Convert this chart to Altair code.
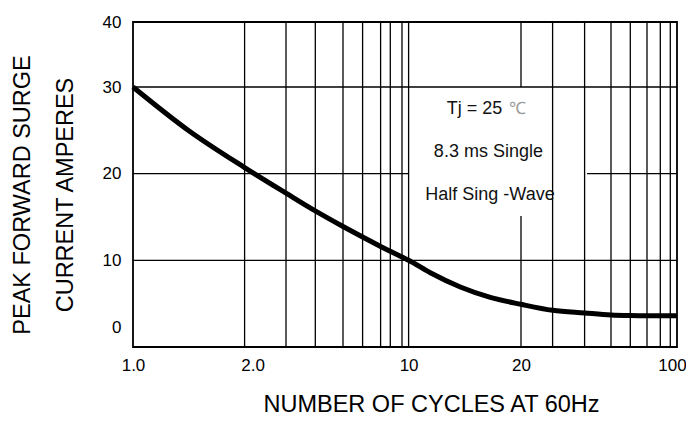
import altair as alt
import pandas as pd

# ---- data ----
cycles = [1, 1.5, 2, 3, 4, 5, 6, 7, 8, 9, 10, 11.93, 14.6, 17.27, 20, 30, 40, 50, 60, 70, 80, 90, 100]
amps = [30, 24.95, 20.7, 17.75, 15.7, 13.9, 12.68, 11.6, 11.04, 10.37, 10, 8.13, 6.0, 4.44, 3.4, 2.5, 2.1, 1.8, 1.71, 1.68, 1.68, 1.68, 1.68]

x_grid_front = [2, 3, 4, 5, 6, 7, 8, 9, 10, 30, 40, 50, 60, 70, 80, 90]
x_grid_back = [20]
y_grid_front = [10, 30]
y_grid_back = [20]

x_tick_values = [1, 2, 10, 20, 100]
y_tick_values = [0, 10, 20, 30, 40]

note_text = ["8.3 ms  Single", "Half Sing -Wave"]
note_x = [17.1, 17.24]
note_y = [22.5, 17.5]
tj_text = ["Tj = 25"]
tj_x = [15.86]
tj_unit = ["℃"]
tj_unit_x = [19.67]
tj_y = [27.5]

box_x = [10]
box_x2 = [40.9]
box_y = [15.1]
box_y2 = [30]

# ---- the printed grid is hand-drawn: piecewise scales following it ----
x_domain = [1, 2, 3, 4, 5, 6, 7, 8, 9, 10, 20, 30, 40, 50, 60, 70, 80, 90, 100]
x_range = [0, 111.6, 153, 182.3, 210, 229.6, 247.6, 257.3, 269, 275.6,
           388, 419.6, 451.6, 478, 497.3, 514, 527.3, 537.3, 544]
y_domain = [-3, 0, 10, 20, 30, 40]
y_range = [325, 305, 238.3, 151.6, 65, 0]

W, H = 544, 325
FONT = "Liberation Sans, Arial, sans-serif"

xs = alt.Scale(domain=x_domain, range=x_range, nice=False, zero=False)
ys = alt.Scale(domain=y_domain, range=y_range, nice=False, zero=False)

x_axis = alt.Axis(
    values=x_tick_values,
    labelExpr="datum.value < 10 ? format(datum.value, '.1f') : format(datum.value, 'd')",
    labelFont=FONT, labelFontSize=17, labelColor="black", labelPadding=10,
    labelOffset={"condition": [{"test": "datum.value === 2", "value": 8},
                               {"test": "datum.value === 100", "value": -5}],
                 "value": 0},
    labelFlush=False, labelOverlap=False,
    domain=False, ticks=False, grid=False,
    title="NUMBER OF CYCLES AT 60Hz", titleFont=FONT, titleFontSize=23.5,
    titleFontWeight="normal", titleColor="black",
    titleX=298, titleY=64, titleAlign="center", titleBaseline="alphabetic",
)
y_axis = alt.Axis(
    values=y_tick_values,
    labelFont=FONT, labelFontSize=17, labelColor="black", labelPadding=12,
    labelBaseline="middle", labelFlush=False, labelOverlap=False,
    domain=False, ticks=False, grid=False,
    title=["PEAK FORWARD SURGE", "CURRENT AMPERES"], titleFont=FONT, titleFontSize=23.5,
    titleFontWeight="normal", titleColor="black", titleLineHeight=42.5,
    titleX=-110.5, titleY=172.5, titleAngle=270, titleAlign="center", titleBaseline="middle",
)

curve_df = pd.DataFrame({"cycles": cycles, "amps": amps})

base_curve = alt.Chart(curve_df).mark_line(
    color="black", strokeWidth=5, interpolate="monotone", strokeCap="butt"
).encode(
    x=alt.X("cycles:Q", scale=xs, axis=x_axis),
    y=alt.Y("amps:Q", scale=ys, axis=y_axis),
)

def vrules(vals):
    return alt.Chart(pd.DataFrame({"v": vals})).mark_rule(color="black", strokeWidth=1.3).encode(
        x=alt.X("v:Q", scale=xs)
    )

def hrules(vals):
    return alt.Chart(pd.DataFrame({"v": vals})).mark_rule(color="black", strokeWidth=1.3).encode(
        y=alt.Y("v:Q", scale=ys)
    )

box = alt.Chart(pd.DataFrame({"x": box_x, "x2": box_x2, "y": box_y, "y2": box_y2})).mark_rect(
    color="white"
).encode(
    x=alt.X("x:Q", scale=xs), x2="x2:Q",
    y=alt.Y("y:Q", scale=ys), y2="y2:Q",
)

notes = alt.Chart(pd.DataFrame({"t": note_text, "x": note_x, "y": note_y})).mark_text(
    font=FONT, fontSize=18, color="#111", align="center", baseline="middle"
).encode(x=alt.X("x:Q", scale=xs), y=alt.Y("y:Q", scale=ys), text="t:N")

tj = alt.Chart(pd.DataFrame({"t": tj_text, "x": tj_x, "y": tj_y})).mark_text(
    font=FONT, fontSize=18, color="#111", align="center", baseline="middle"
).encode(x=alt.X("x:Q", scale=xs), y=alt.Y("y:Q", scale=ys), text="t:N")

tj_u = alt.Chart(pd.DataFrame({"t": tj_unit, "x": tj_unit_x, "y": tj_y})).mark_text(
    font=FONT, fontSize=17, color="#9a9a9a", align="center", baseline="middle"
).encode(x=alt.X("x:Q", scale=xs), y=alt.Y("y:Q", scale=ys), text="t:N")

chart = alt.layer(
    base_curve.mark_line(opacity=0),  # carries the axes
    hrules(y_grid_back), vrules(x_grid_back),
    box,
    hrules(y_grid_front), vrules(x_grid_front),
    base_curve,
    notes, tj, tj_u,
).properties(
    width=W, height=H,
    autosize=alt.AutoSizeParams(type="none"),
    padding={"left": 125, "top": 14, "right": 9, "bottom": 68},
).configure_view(
    stroke="black", strokeWidth=1.8
)

chart.save("out.html", embed_options={"renderer": "svg", "actions": False})
